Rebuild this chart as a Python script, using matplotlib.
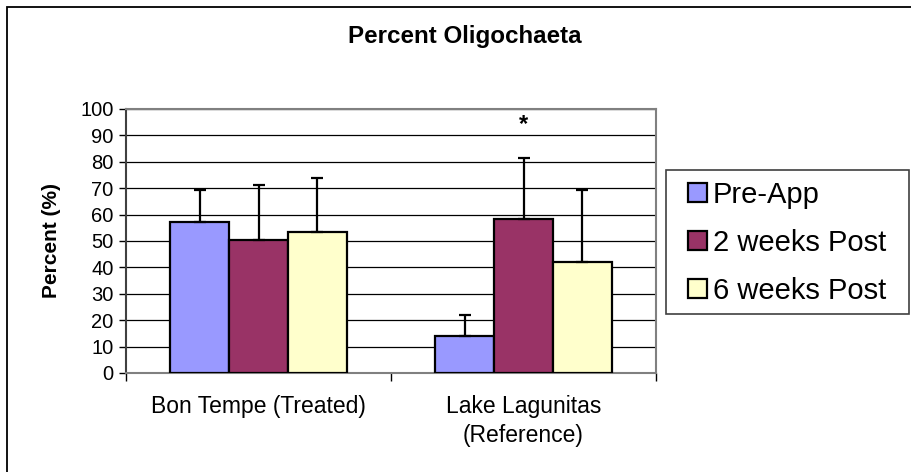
import matplotlib
matplotlib.use("Agg")
import matplotlib.pyplot as plt
from matplotlib.patches import Rectangle
import numpy as np

plt.rcParams['font.family'] = ['Liberation Sans', 'DejaVu Sans']

categories = ["Bon Tempe (Treated)", "Lake Lagunitas\n(Reference)"]
series_names = ["Pre-App", "2 weeks Post", "6 weeks Post"]
pre_app = [57.3, 14.2]
two_weeks = [50.2, 58.4]
six_weeks = [53.5, 42.0]
pre_app_err = [12.0, 7.8]
two_weeks_err = [20.9, 22.9]
six_weeks_err = [20.3, 27.3]
yticks = [0, 10, 20, 30, 40, 50, 60, 70, 80, 90, 100]
star_value = 94.0

colors = ["#9999FF", "#993366", "#FFFFCC"]

W, H = 912, 472
fig = plt.figure(figsize=(W / 100, H / 100), dpi=100)

# outer chart border
fig.patches.append(Rectangle((7 / W, -0.1), 1.2, 1 - 7 / H + 0.1, transform=fig.transFigure,
                             fill=False, edgecolor="black", linewidth=1.3))

ax = fig.add_axes([126 / W, 1 - 373 / H, (656 - 126) / W, (373 - 109) / H])

x = np.arange(len(categories))
bw = 0.222
vals = [pre_app, two_weeks, six_weeks]
errs = [pre_app_err, two_weeks_err, six_weeks_err]
for i, (v, e, c, n) in enumerate(zip(vals, errs, colors, series_names)):
    pos = x + (i - 1) * bw
    ax.bar(pos, v, width=bw, color=c, edgecolor="black", linewidth=1.6, label=n, zorder=3)
    ax.errorbar(pos, v, yerr=[np.zeros(len(v)), e], fmt="none", ecolor="black",
                elinewidth=1.6, capsize=4.5, capthick=1.6, zorder=4)

ax.text(x[1], star_value, "*", ha="center", va="center", fontsize=17, fontweight="bold", zorder=5)

ax.set_xlim(-0.5, 1.5)
ax.set_ylim(0, 100)
ax.set_yticks(yticks)
ax.set_yticklabels([str(t) for t in yticks], fontsize=14.5)
ax.yaxis.grid(True, color="black", linewidth=0.9, zorder=0)
ax.set_axisbelow(True)
ax.tick_params(axis="y", direction="out", length=5, width=1, pad=4)

ax.set_xticks([-0.5, 0.5, 1.5])
ax.set_xticklabels([])
ax.tick_params(axis="x", direction="out", length=6, width=1)
for i, c in enumerate(categories):
    ax.text(x[i], -8.2, c, ha="center", va="top", fontsize=16.5, linespacing=1.35,
            transform=ax.transData, clip_on=False)

for s in ["top", "right", "bottom"]:
    ax.spines[s].set_color("#808080")
    ax.spines[s].set_linewidth(1.5)
ax.spines["left"].set_color("#404040")
ax.spines["left"].set_linewidth(1.5)

fig.text(52 / W, 1 - 241 / H, "Percent (%)", rotation=90, ha="center", va="center",
         fontsize=15, fontweight="bold")

fig.text(0.5 * (346 + 583) / W, 1 - 37 / H, "Percent Oligochaeta", ha="center", va="center",
         fontsize=17.4, fontweight="bold")

# legend frame drawn separately
fig.patches.append(Rectangle((666 / W, 1 - 314 / H), (909 - 666) / W, (314 - 170) / H,
                             transform=fig.transFigure, fill=False, edgecolor="#404040",
                             linewidth=1.2))
handles, labels = ax.get_legend_handles_labels()
leg = fig.legend(handles, labels, loc="upper left", bbox_to_anchor=(688 / W, 1 - 181 / H),
                 fontsize=21, frameon=False, handlelength=0.65, handleheight=0.65,
                 handletextpad=0.2, borderpad=0, labelspacing=0.68, borderaxespad=0)

fig.savefig("out.png", dpi=100)
